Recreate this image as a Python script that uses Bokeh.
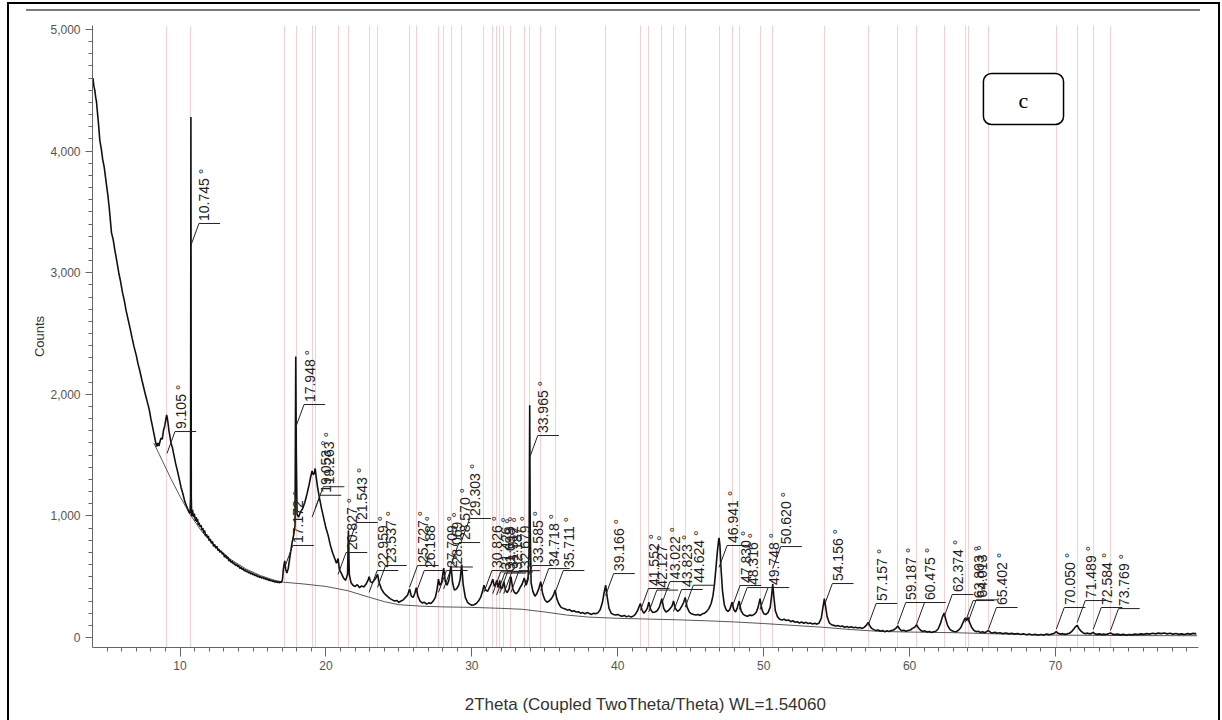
import numpy as np
from bokeh.plotting import figure
from bokeh.models import Range1d, NumeralTickFormatter, FixedTicker, BoxAnnotation, Label
from bokeh.embed import file_html
from bokeh.resources import INLINE
from bokeh.core.properties import value

# ---- measured diffraction trace (2theta in degrees, intensity in counts) ----
theta_low = [4.00, 4.03, 4.06, 4.10, 4.16, 4.22, 4.27, 4.33, 4.40, 4.50, 4.60, 4.70, 4.80, 4.95,
             5.05, 5.15, 5.30, 5.42, 5.54, 5.66, 5.80, 5.92, 6.05, 6.18, 6.30, 6.45, 6.58, 6.72,
             6.85, 7.00, 7.12, 7.25, 7.38, 7.50, 7.62, 7.75, 7.88, 8.00, 8.12, 8.22, 8.32,
             8.40, 8.48, 8.55, 8.62, 8.70, 8.78, 8.86, 8.95, 9.02, 9.08, 9.12, 9.18, 9.24, 9.30,
             9.38, 9.48, 9.58, 9.70, 9.82, 9.95, 10.08, 10.20, 10.32, 10.45, 10.58, 10.68, 10.72,
             10.745, 10.77, 10.80, 10.86, 10.92, 10.98]
counts_low = [4540, 4600, 4570, 4530, 4500, 4440, 4410, 4330, 4240, 4090, 4020, 3930, 3870, 3730,
              3640, 3530, 3330, 3270, 3180, 3100, 3000, 2930, 2840, 2770, 2690, 2610, 2540, 2460,
              2390, 2320, 2250, 2190, 2120, 2060, 2000, 1940, 1880, 1800, 1730, 1670, 1610,
              1570, 1600, 1575, 1610, 1640, 1630, 1700, 1740, 1790, 1830, 1810, 1760, 1700, 1660,
              1600, 1560, 1500, 1430, 1370, 1300, 1230, 1180, 1120, 1080, 1040, 1020, 1150,
              4280, 1150, 1000, 1050, 990, 1020]

theta_slope = [11.05, 11.10, 11.15, 11.20, 11.25, 11.30, 11.38, 11.44, 11.50, 11.56, 11.62, 11.68,
               11.75, 11.81, 11.88, 11.94, 12.00, 12.07, 12.15, 12.22, 12.30, 12.37, 12.45, 12.52,
               12.60, 12.67, 12.75, 12.82, 12.90, 12.97, 13.05, 13.12, 13.20, 13.27, 13.35, 13.42,
               13.50, 13.57, 13.65, 13.72, 13.80, 13.87, 13.95, 14.02, 14.10, 14.17, 14.25, 14.32,
               14.40, 14.47, 14.55, 14.62, 14.70, 14.77, 14.85, 14.92, 15.00, 15.07, 15.15, 15.22,
               15.30, 15.37, 15.45, 15.52, 15.60, 15.67, 15.75, 15.82, 15.90, 15.97, 16.05, 16.12,
               16.20, 16.27, 16.35, 16.42, 16.50, 16.57, 16.65, 16.72, 16.80, 16.87, 16.94, 17.02]
counts_slope = [960, 990, 950, 975, 925, 945, 910, 925, 885, 900, 860, 880,
                835, 850, 820, 835, 795, 810, 775, 790, 750, 765, 735, 750,
                715, 725, 700, 712, 685, 695, 660, 678, 650, 662, 630, 642,
                618, 628, 605, 615, 592, 603, 582, 592, 568, 580, 560, 570,
                548, 558, 540, 548, 530, 540, 522, 532, 515, 524, 508, 516,
                500, 508, 494, 502, 488, 496, 482, 490, 476, 484, 470, 478,
                465, 472, 460, 468, 455, 462, 452, 460, 450, 458, 452, 478]

theta_mid = [17.08, 17.14, 17.18, 17.24, 17.32, 17.42, 17.55, 17.68, 17.80, 17.88, 17.93, 17.97,
             18.02, 18.12, 18.25, 18.40, 18.55, 18.70, 18.85, 18.95, 19.05, 19.12, 19.20, 19.26,
             19.32, 19.42, 19.55, 19.70, 19.85, 20.00, 20.15, 20.30, 20.45, 20.60, 20.72, 20.83,
             20.92, 21.05, 21.20, 21.35, 21.48, 21.54, 21.60, 21.72, 21.85]
counts_mid = [560, 610, 630, 560, 530, 570, 680, 780, 850, 920, 2310, 1500,
              1010, 990, 1030, 1060, 1110, 1180, 1260, 1320, 1370, 1340, 1350, 1390,
              1330, 1240, 1150, 1060, 980, 900, 840, 760, 700, 650, 610, 650,
              560, 530, 490, 470, 520, 880, 520, 450, 430]

theta_cluster = [22.00, 22.15, 22.30, 22.45, 22.60, 22.75, 22.88, 22.96, 23.05, 23.18, 23.30, 23.42,
                 23.54, 23.65, 23.80, 23.95, 24.10, 24.25, 24.40, 24.55, 24.70, 24.85, 25.00, 25.15,
                 25.30, 25.45, 25.60, 25.73, 25.85, 25.98, 26.08, 26.19, 26.30, 26.45, 26.60, 26.75,
                 26.90, 27.05, 27.20, 27.35, 27.50, 27.62, 27.71, 27.80, 27.92, 28.07, 28.18, 28.30,
                 28.42, 28.57, 28.68, 28.80, 28.95, 29.10, 29.20, 29.30, 29.40, 29.55, 29.70, 29.85,
                 30.00, 30.15, 30.30, 30.45, 30.60, 30.73, 30.83, 30.95, 31.08, 31.20, 31.32, 31.43,
                 31.55, 31.63, 31.70, 31.80, 31.91, 32.00, 32.10, 32.19, 32.30, 32.42, 32.55, 32.68,
                 32.80, 32.92, 33.05, 33.18, 33.30, 33.45, 33.59, 33.72, 33.85, 33.92, 33.965, 34.00,
                 34.06, 34.18, 34.32, 34.45, 34.58, 34.72, 34.85, 35.00, 35.15, 35.30, 35.45, 35.60,
                 35.71, 35.82, 35.95, 36.10]
counts_cluster = [420, 435, 410, 425, 415, 440, 470, 500, 460, 450, 470, 490,
                  520, 450, 400, 370, 350, 335, 320, 310, 300, 305, 290, 300,
                  310, 330, 350, 400, 340, 330, 360, 410, 340, 300, 285, 290,
                  275, 285, 280, 300, 330, 400, 480, 430, 450, 570, 460, 430,
                  470, 590, 450, 390, 400, 430, 480, 600, 440, 330, 290, 275,
                  265, 270, 280, 300, 330, 380, 430, 390, 380, 410, 440, 480,
                  420, 440, 470, 410, 470, 400, 410, 460, 390, 370, 400, 500,
                  400, 370, 360, 380, 410, 440, 490, 430, 480, 700, 1910, 900,
                  450, 380, 340, 360, 400, 460, 360, 310, 290, 300, 320, 350,
                  390, 320, 280, 250]

theta_high = [36.25, 36.40, 36.55, 36.70, 36.85, 37.00, 37.15, 37.30, 37.45, 37.60, 37.75, 37.90,
              38.05, 38.20, 38.35, 38.50, 38.65, 38.80, 38.95, 39.05, 39.17, 39.28, 39.40, 39.55,
              39.70, 39.85, 40.00, 40.15, 40.30, 40.45, 40.60, 40.75, 40.90, 41.05, 41.20, 41.35,
              41.45, 41.55, 41.65, 41.78, 41.90, 42.02, 42.13, 42.25, 42.40, 42.55, 42.70, 42.85,
              43.02, 43.15, 43.30, 43.45, 43.60, 43.72, 43.82, 43.95, 44.10, 44.25, 44.40, 44.52,
              44.62, 44.75, 44.90, 45.05, 45.20, 45.35, 45.50, 45.65, 45.80, 45.95,
              46.10, 46.25, 46.40, 46.52, 46.62, 46.72, 46.82, 46.90, 46.94, 47.00, 47.08, 47.18,
              47.30, 47.42, 47.55, 47.68, 47.83, 47.95, 48.07, 48.18, 48.32, 48.45, 48.60, 48.75,
              48.90, 49.05, 49.20, 49.35, 49.50, 49.62, 49.75, 49.88, 50.00, 50.15, 50.30, 50.45,
              50.55, 50.62, 50.70, 50.80, 50.95, 51.10, 51.25, 51.40, 51.55, 51.70, 51.85, 52.00,
              52.15, 52.30, 52.45, 52.60, 52.75, 52.90, 53.05, 53.20, 53.35, 53.50, 53.65, 53.80,
              53.95, 54.05, 54.16, 54.25, 54.35, 54.50, 54.65, 54.80, 54.95, 55.10, 55.25, 55.40,
              55.55, 55.70, 55.85]
counts_high = [240, 235, 225, 230, 215, 220, 210, 212, 200, 205, 195, 205,
               198, 190, 200, 195, 205, 230, 290, 360, 430, 330, 240, 200,
               190, 185, 190, 180, 175, 182, 170, 178, 168, 175, 190, 220,
               250, 280, 230, 200, 215, 240, 290, 230, 205, 210, 220, 250,
               320, 240, 210, 220, 240, 260, 300, 240, 215, 230, 260, 290,
               330, 250, 210, 195, 190, 185, 190, 182, 195, 200,
               215, 240, 280, 340, 430, 560, 700, 790, 820, 760, 560, 380,
               270, 230, 215, 230, 290, 230, 210, 240, 300, 220, 190, 180,
               175, 185, 180, 190, 210, 250, 320, 230, 195, 190, 205, 250,
               350, 440, 330, 220, 170, 150, 145, 150, 140, 145, 130, 138,
               125, 130, 120, 128, 118, 125, 115, 120, 112, 118, 110, 120,
               160, 240, 320, 250, 170, 120, 105, 100, 95, 98, 90, 95,
               85, 90, 82]

theta_tail = [56.00, 56.15, 56.30, 56.45, 56.60, 56.75, 56.90, 57.03, 57.16, 57.28, 57.40, 57.55,
              57.70, 57.85, 58.00, 58.15, 58.30, 58.45, 58.60, 58.75, 58.90, 59.05, 59.19, 59.32,
              59.45, 59.60, 59.75, 59.90, 60.05, 60.20, 60.35, 60.48, 60.60, 60.75, 60.90, 61.05,
              61.20, 61.35, 61.50, 61.65, 61.80, 61.95, 62.10, 62.25, 62.37, 62.48, 62.60, 62.75,
              62.90, 63.05, 63.20, 63.35, 63.50, 63.65, 63.80, 63.92, 64.01, 64.12, 64.25, 64.40,
              64.55, 64.70, 64.85, 65.00, 65.15, 65.30, 65.40, 65.55, 65.70, 65.85, 66.00, 66.20,
              66.40, 66.60, 66.80, 67.00, 67.20, 67.40, 67.60, 67.80, 68.00, 68.20, 68.40, 68.60,
              68.80, 69.00, 69.20, 69.40, 69.60, 69.80, 69.95, 70.05, 70.18, 70.35, 70.50, 70.65,
              70.80, 70.95, 71.10, 71.25, 71.38, 71.49, 71.60, 71.75, 71.90, 72.05, 72.20, 72.35,
              72.48, 72.58, 72.70, 72.85, 73.00, 73.15, 73.30, 73.45, 73.60, 73.77, 73.90, 74.05,
              74.25, 74.45, 74.65, 74.85, 75.05, 75.25, 75.45, 75.65, 75.85, 76.05, 76.25, 76.45,
              76.65, 76.85, 77.05, 77.25, 77.45, 77.65, 77.85, 78.05, 78.25, 78.45, 78.65, 78.85,
              79.05, 79.25, 79.45, 79.65]
counts_tail = [88, 80, 85, 78, 82, 75, 85, 100, 125, 95, 75, 65,
               58, 62, 52, 58, 48, 55, 50, 58, 62, 75, 95, 70,
               55, 60, 52, 58, 62, 75, 85, 105, 80, 60, 50, 55,
               45, 50, 42, 48, 52, 70, 110, 170, 200, 150, 100, 70,
               55, 50, 48, 60, 80, 120, 160, 140, 165, 120, 85, 60,
               48, 52, 42, 48, 40, 50, 58, 42, 38, 44, 35, 40,
               32, 38, 30, 35, 28, 33, 25, 30, 22, 28, 20, 26,
               18, 25, 20, 28, 22, 30, 38, 48, 35, 28, 32, 26,
               30, 35, 48, 70, 90, 100, 75, 52, 38, 32, 36, 30,
               34, 42, 30, 26, 30, 24, 28, 25, 30, 38, 28, 24,
               28, 22, 26, 20, 25, 22, 28, 24, 30, 26, 32, 28,
               35, 30, 36, 32, 38, 30, 35, 28, 33, 26, 30, 25,
               32, 28, 34, 30]

# ---- fitted background ----
bg_theta = [8.20, 8.80, 9.40, 10.00, 10.75, 11.50, 12.50, 13.50, 14.50, 15.50, 16.50, 17.10,
            18.50, 20.00, 21.50, 23.00, 24.00, 25.00, 26.50, 28.00, 30.00, 32.00, 33.50, 35.00,
            36.50, 38.00, 40.00, 42.00, 44.00, 46.00, 48.00, 50.00, 52.00, 54.00, 56.00, 58.00,
            60.00, 63.00, 66.00, 70.00, 75.00, 79.70]
bg_counts = [1600, 1450, 1300, 1160, 1000, 870, 740, 640, 565, 510, 470, 455,
             440, 420, 385, 330, 295, 270, 258, 252, 248, 240, 232, 210,
             185, 168, 158, 152, 146, 138, 128, 115, 100, 85, 65, 50,
             45, 40, 30, 20, 16, 15]

# ---- identified peaks (2theta) and the height of each label bar (counts) ----
peak_theta = [9.105, 10.745, 17.172, 17.948, 19.053, 19.263, 20.827, 21.543, 22.959, 23.537,
              25.727, 26.188, 27.709, 28.069, 28.570, 29.303, 30.826, 31.426, 31.698, 31.912,
              32.187, 32.679, 33.585, 33.965, 34.718, 35.711, 39.166, 41.552, 42.127, 43.022,
              43.823, 44.624, 46.941, 47.830, 48.316, 49.748, 50.620, 54.156, 57.157, 59.187,
              60.475, 62.374, 63.803, 64.013, 65.402, 70.050, 71.489, 72.584, 73.769]
label_counts = [1694, 3405, 757, 1916, 1170, 1240, 699, 946, 551, 592,
                592, 551, 551, 580, 781, 979, 551, 540, 530, 545,
                540, 550, 592, 1661, 567, 551, 526, 403, 390, 460,
                395, 430, 757, 428, 411, 411, 748, 444, 280, 288,
                288, 354, 304, 310, 247, 247, 304, 247, 238]
peak_text = [f"{t:.3f} °" for t in peak_theta]

x_ticks = [10, 20, 30, 40, 50, 60, 70]
y_ticks = [0, 1000, 2000, 3000, 4000, 5000]

two_theta = theta_low + theta_slope + theta_mid + theta_cluster + theta_high + theta_tail
counts = counts_low + counts_slope + counts_mid + counts_cluster + counts_high + counts_tail
assert len(two_theta) == len(counts)

# label leader geometry (degrees / counts)
LEAD_DX = 0.55
LEAD_DY = 180
BAR_W = 1.45
TEXT_DX = 0.93

FONT = "Liberation Sans"

# The figure sits inside a page frame drawn as a CSS outline; the header rule is a
# thin gradient strip in the host background, visible through the transparent border area.
page_styles = {
    "outline": "2px solid black",
    "outline-offset": "-1px",
    "background": "linear-gradient(#7a7a7a, #7a7a7a) 18px 6px / 1174px 2px no-repeat, white",
}

p = figure(width=1211, height=720, output_backend="svg", toolbar_location=None,
           x_range=Range1d(4, 79.8), y_range=Range1d(-82, 5033),
           min_border_left=84, min_border_right=21, min_border_top=22, min_border_bottom=76,
           background_fill_color="white", border_fill_color=None,
           margin=(3, 0, 0, 8), styles=page_styles)
p.xgrid.visible = False
p.ygrid.visible = False
p.outline_line_color = None

# reference pattern positions
p.vspan(x=peak_theta, line_color="#f6cfcf", line_width=1, level="underlay")

# background and measured trace
p.line(bg_theta, bg_counts, line_color="#444444", line_width=0.9)
p.line(two_theta, counts, line_color="#111111", line_width=1.6)

# peak labels with leaders
lx, ly = [], []
for t, c in zip(peak_theta, label_counts):
    lx.append([t, t + LEAD_DX, t + LEAD_DX + BAR_W])
    ly.append([c - LEAD_DY, c, c])
p.multi_line(lx, ly, line_color="#222222", line_width=1)
p.text(x=[t + TEXT_DX for t in peak_theta], y=[c + 20 for c in label_counts], text=peak_text,
       angle=np.pi / 2, text_align="left", text_baseline="middle",
       text_font=value(FONT), text_font_size="14px", text_color="#222222")

# axes
for ax in (p.xaxis[0], p.yaxis[0]):
    ax.axis_line_color = "#666666"
    ax.major_tick_line_color = "#666666"
    ax.minor_tick_line_color = "#666666"
    ax.major_tick_in = 0
    ax.minor_tick_in = 0
    ax.major_label_text_font = FONT
    ax.major_label_text_font_size = "12px"
    ax.major_label_text_color = "#555555"
    ax.axis_label_text_font = FONT
    ax.axis_label_text_font_style = "normal"
    ax.axis_label_text_color = "#333333"

p.xaxis.ticker = FixedTicker(ticks=x_ticks, minor_ticks=list(range(5, 80)))
p.xaxis.major_tick_out = 9
p.xaxis.minor_tick_out = 4
p.xaxis.major_label_standoff = 4
p.xaxis.axis_label = "2Theta (Coupled TwoTheta/Theta) WL=1.54060"
p.xaxis.axis_label_text_font_size = "17px"
p.xaxis.axis_label_standoff = 22

p.yaxis.ticker = FixedTicker(ticks=y_ticks, minor_ticks=list(range(0, 5001, 100)))
p.yaxis.formatter = NumeralTickFormatter(format="0,0")
p.yaxis.major_tick_out = 7
p.yaxis.minor_tick_out = 4
p.yaxis.major_label_standoff = 5
p.yaxis.axis_label = "Counts"
p.yaxis.axis_label_text_font_size = "13px"
p.yaxis.axis_label_standoff = 0

# sample tag
p.add_layout(BoxAnnotation(left=65.06, right=70.55, bottom=4219, top=4638,
                           fill_color="white", fill_alpha=1, line_color="black", line_alpha=1,
                           line_width=1.5, border_radius=8, level="annotation"))
p.add_layout(Label(x=67.8, y=4420, text="c", text_align="center", text_baseline="middle",
                   text_font="Liberation Serif", text_font_size="22px", text_color="black",
                   level="overlay"))

open("out.html", "w").write(file_html(p, INLINE))
